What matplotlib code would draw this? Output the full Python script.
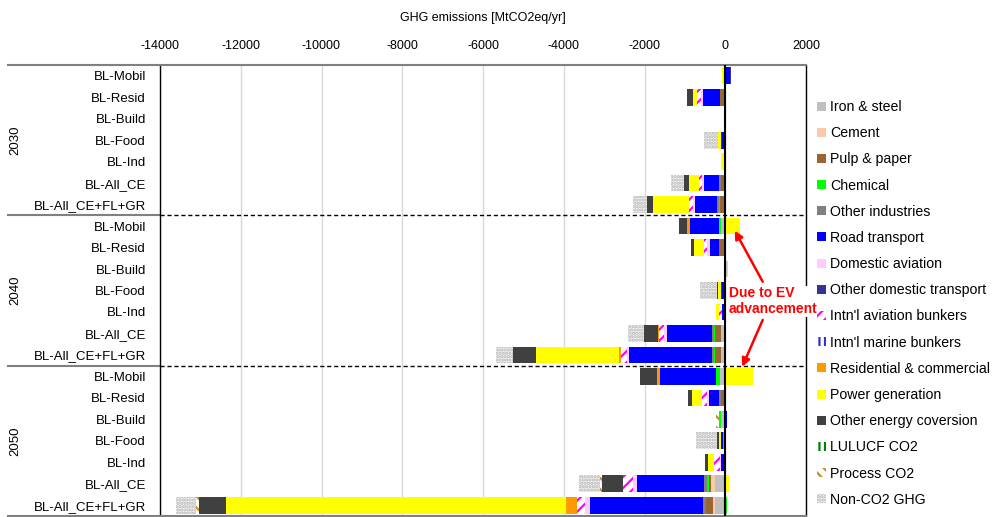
import matplotlib
matplotlib.use('Agg')
import matplotlib.pyplot as plt
from matplotlib.patches import Patch
import numpy as np

plt.rcParams['font.family'] = ['Liberation Sans', 'DejaVu Sans']
plt.rcParams['axes.unicode_minus'] = False
plt.rcParams['hatch.linewidth'] = 1.6

# ---------------- data ----------------
years = ['2030', '2040', '2050']
scenarios = ['BL-Mobil', 'BL-Resid', 'BL-Build', 'BL-Food', 'BL-Ind', 'BL-All_CE', 'BL-All_CE+FL+GR']
x_ticks = [-14000, -12000, -10000, -8000, -6000, -4000, -2000, 0, 2000]
x_label = 'GHG emissions [MtCO2eq/yr]'
note_text = 'Due to EV\nadvancement'

sector_names = ['Iron & steel', 'Cement', 'Pulp & paper', 'Chemical', 'Other industries',
                'Road transport', 'Domestic aviation', 'Other domestic transport',
                "Intn'l aviation bunkers", "Intn'l marine bunkers", 'Residential & commercial',
                'Power generation', 'Other energy coversion', 'LULUCF CO2', 'Process CO2',
                'Non-CO2 GHG']

# rows: 2030 x 7 scenarios, 2040 x 7, 2050 x 7
iron_steel   = [0, 0, -15, 0, -20, 0, 0,        -100, 0, 40, 0, 0, -115, -115,       -130, 0, -115, 0, 0, -265, -250]
cement       = [0, 0, 0, 0, 0, 0, 0,            0, 0, 25, 0, 0, 0, 0,                0, 0, 0, 0, 0, -100, -50]
pulp_paper   = [0, -130, 0, 0, 0, -116, -132,   0, -148, 0, 0, 0, -133, -133,        0, -100, 0, 0, -25, -33, -182]
chemical     = [0, 25, 0, 0, 0, 0, -33,         -50, 0, 0, 0, 0, -33, -30,           -107, 0, -50, -66, 0, -66, 33]
other_ind    = [0, 0, 0, 0, 0, -50, -33,        0, 0, 0, 0, -33, -50, -50,           0, -50, 0, 0, 0, -66, -66]
road         = [110, -430, 0, -85, 0, -363, -561,  -727, -231, 0, -75, -50, -1106, -2045,  -1378, -264, 50, -50, -83, -1667, -2805]
dom_aviation = [0, -33, -15, 0, 0, -50, -50,    0, -66, 0, 0, 0, -83, -66,           0, -50, 0, 0, -33, -83, -116]
other_dom    = [35, 0, 0, -25, 0, 0, 0,         0, 0, 0, -20, 0, 0, 0,               0, 0, 0, 0, 0, 0, 0]
intl_aviation= [0, -99, 0, 0, 0, -83, -91,      0, -83, 0, 0, -66, -132, -150,       0, -100, 0, 0, -132, -248, -215]
intl_marine  = [0, 0, 0, 0, 0, 0, 0,            0, 0, 0, 0, 0, 0, 0,                 0, 0, 0, 0, 0, 0, 0]
residential  = [0, 0, 0, 0, 0, 0, 0,            -82, 0, -40, 0, 0, -25, -50,         -66, 0, 0, 0, 0, 0, -248]
power        = [-75, -99, 0, -75, -75, -248, -900,  363, -248, 0, -80, -83, 0, -2055,  677, -264, 0, -50, -165, 100, -8430]
other_energy = [0, -148, 0, 0, 0, -100, -148,   -181, -66, 0, -30, 0, -330, -570,    -430, -83, 0, -50, -57, -528, -676]
lulucf       = [0, 0, 0, 0, 0, 0, 0,            0, 0, 0, 0, 0, 0, 0,                 0, 0, 0, 0, 0, 0, 0]
process_co2  = [0, 0, 0, 0, 0, 0, 0,            0, 0, 0, 0, 0, 0, 0,                 0, 0, -74, 0, 0, -50, -66]
non_co2      = [0, 0, 0, -346, 0, -330, -346,   0, 0, 0, -413, 0, -413, -420,        0, 0, 0, -520, 0, -512, -495]

series = [iron_steel, cement, pulp_paper, chemical, other_ind, road, dom_aviation, other_dom,
          intl_aviation, intl_marine, residential, power, other_energy, lulucf, process_co2, non_co2]

# styles: (facecolor, hatchcolor, hatch)
styles = [
    ('#C0C0C0', None, None),
    ('#F8CBAD', None, None),
    ('#996633', None, None),
    ('#00FF00', None, None),
    ('#808080', None, None),
    ('#0000FF', None, None),
    ('#FFCCFF', None, None),
    ('#333399', None, None),
    ('white', '#FF00FF', '///'),
    ('white', '#3333CC', '|||'),
    ('#FF9900', None, None),
    ('#FFFF00', None, None),
    ('#404040', None, None),
    ('white', '#008000', '|||'),
    ('white', '#C09020', '\\\\\\'),
    ('#F4F4F4', '#B4B4B4', '.....'),
]

# ---------------- figure ----------------
fig = plt.figure(figsize=(9.97, 5.17), dpi=100)
L, R, T, B = 160, 806, 65, 516
W, H = 997, 517
ax = fig.add_axes([L / W, 1 - B / H, (R - L) / W, (B - T) / H])

n_rows = len(years) * len(scenarios)
y = np.arange(n_rows)
pos_cum = np.zeros(n_rows)
neg_cum = np.zeros(n_rows)
bar_h = 0.78
for vals, (fc, hc, hatch) in zip(series, styles):
    v = np.array(vals, dtype=float)
    left = np.where(v >= 0, pos_cum, neg_cum)
    kw = dict(height=bar_h, left=left, color=fc, linewidth=0, zorder=3)
    if hatch:
        kw.update(edgecolor=hc, hatch=hatch)
    ax.barh(y, v, **kw)
    pos_cum += np.where(v > 0, v, 0)
    neg_cum += np.where(v < 0, v, 0)

ax.set_xlim(-14000, 2000)
ax.set_ylim(n_rows - 0.5, -0.5)
ax.xaxis.tick_top()
ax.xaxis.set_label_position('top')
ax.set_xticks(x_ticks)
ax.set_xticklabels([str(t) for t in x_ticks])
ax.tick_params(axis='x', length=0, pad=9, labelsize=9)
ax.set_xlabel(x_label, fontsize=9, labelpad=14)
ax.set_yticks(y)
ax.set_yticklabels(scenarios * len(years))
ax.tick_params(axis='y', length=0, pad=10, labelsize=9.5)
ax.xaxis.grid(True, color='#D9D9D9', lw=1)
ax.set_axisbelow(True)

for s in ['left', 'right']:
    ax.spines[s].set_color('black')
    ax.spines[s].set_linewidth(1)
for s in ['top', 'bottom']:
    ax.spines[s].set_color('#808080')
    ax.spines[s].set_linewidth(1.5)

ax.axvline(0, color='black', lw=1.5, zorder=5)
ns = len(scenarios)
for k in range(1, len(years)):
    ax.axhline(k * ns - 0.5, color='black', ls=(0, (3, 2)), lw=1, zorder=4)

# group separators and labels in label area
ytr = ax.get_yaxis_transform()
x0 = (8 - L) / (R - L)
for k in range(len(years) + 1):
    ax.plot([x0, 0], [k * ns - 0.5] * 2, color='#808080', lw=1.5, transform=ytr, clip_on=False)
for k, yr in enumerate(years):
    ax.text((15 - L) / (R - L), k * ns + (ns - 1) / 2, yr, rotation=90, ha='center', va='center',
            fontsize=9.5, transform=ytr)

# annotation
ax.text(87, 10.5, note_text, color='red', fontweight='bold', fontsize=10, ha='left', va='center',
        linespacing=1.15, zorder=10,
        bbox=dict(facecolor='white', edgecolor='none', pad=0.5))
arrow = dict(arrowstyle='-|>', color='red', lw=1.8, mutation_scale=12, shrinkA=0, shrinkB=0)
ax.annotate('', xy=(235, 7.21), xytext=(928, 9.59), arrowprops=arrow, zorder=11)
ax.annotate('', xy=(420, 13.55), xytext=(928, 11.37), arrowprops=arrow, zorder=11)

# legend
handles = []
for (fc, hc, hatch), name in zip(styles, sector_names):
    if hatch:
        handles.append(Patch(facecolor=fc, edgecolor=hc, hatch=hatch, linewidth=0, label=name))
    else:
        handles.append(Patch(facecolor=fc, edgecolor='none', linewidth=0, label=name))
fig.legend(handles=handles, loc='upper left', bbox_to_anchor=(817 / W, 1 - 100 / H),
           frameon=False, fontsize=10.2, handlelength=0.6, handleheight=0.6,
           handletextpad=0.35, labelspacing=0.86, borderpad=0, borderaxespad=0)

fig.savefig('out.png', dpi=100)
